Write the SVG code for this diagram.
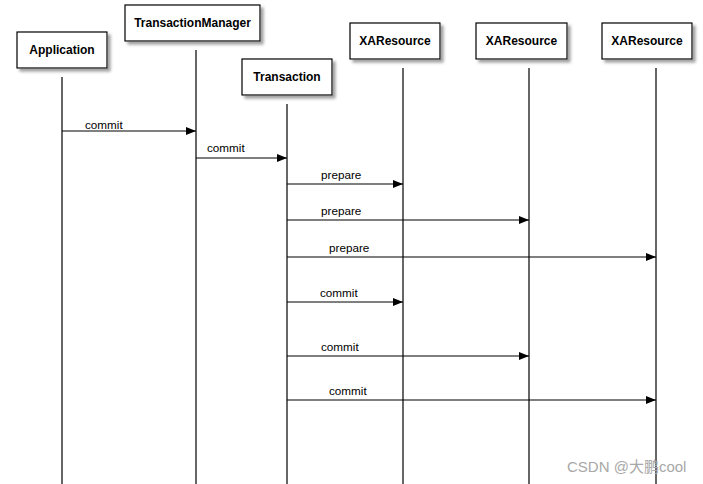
<svg xmlns="http://www.w3.org/2000/svg" width="703" height="484" viewBox="0 0 703 484">
<style>
.box{fill:#fff;stroke:#000;stroke-width:1.2;filter:url(#sh)}
.bt{font-family:"Liberation Sans",Arial,sans-serif;font-size:12px;font-weight:bold;text-anchor:middle;fill:#000}
.life{stroke:#000;stroke-width:1.2;fill:none}
.msg{stroke:#000;stroke-width:1.2;fill:none;marker-end:url(#ah)}
.lt{font-family:"Liberation Sans",Arial,sans-serif;font-size:11.7px;fill:#000}
.wm{font-family:"Liberation Sans","Noto Sans CJK SC",sans-serif;font-size:15px;fill:#a8a8a8}
</style>
<defs>
<filter id="sh" x="-20%" y="-30%" width="150%" height="170%">
<feDropShadow dx="3" dy="3" stdDeviation="1.5" flood-color="#888" flood-opacity="0.8"/>
</filter>
<marker id="ah" markerWidth="10" markerHeight="8" refX="10" refY="4" orient="auto" markerUnits="userSpaceOnUse">
<path d="M0,0 L10,4 L0,8 Z" fill="#000"/>
</marker>
</defs>
<rect width="703" height="484" fill="#fff"/>
<g id="node-application">
<rect class="box" x="17" y="32" width="90" height="36"/>
<text class="bt" x="62" y="54">Application</text>
<line class="life" x1="62" y1="77" x2="62" y2="484"/>
</g>
<g id="node-transactionmanager">
<rect class="box" x="125" y="5" width="135" height="36"/>
<text class="bt" x="192.5" y="27">TransactionManager</text>
<line class="life" x1="196" y1="50" x2="196" y2="484"/>
</g>
<g id="node-transaction">
<rect class="box" x="242" y="59" width="90" height="36"/>
<text class="bt" x="287" y="81">Transaction</text>
<line class="life" x1="287" y1="104" x2="287" y2="484"/>
</g>
<g id="node-xaresource1">
<rect class="box" x="350" y="23" width="90" height="36"/>
<text class="bt" x="395" y="45">XAResource</text>
<line class="life" x1="403" y1="68" x2="403" y2="484"/>
</g>
<g id="node-xaresource2">
<rect class="box" x="476" y="23" width="91" height="36"/>
<text class="bt" x="521.5" y="45">XAResource</text>
<line class="life" x1="529" y1="68" x2="529" y2="484"/>
</g>
<g id="node-xaresource3">
<rect class="box" x="602" y="23" width="90" height="36"/>
<text class="bt" x="647" y="45">XAResource</text>
<line class="life" x1="656" y1="68" x2="656" y2="484"/>
</g>
<g id="connectors">
<line class="msg" x1="62" y1="131" x2="196" y2="131"/>
<text class="lt" x="85" y="129">commit</text>
<line class="msg" x1="196" y1="158" x2="287" y2="158"/>
<text class="lt" x="207" y="152">commit</text>
<line class="msg" x1="287" y1="184" x2="403" y2="184"/>
<text class="lt" x="321" y="179">prepare</text>
<line class="msg" x1="287" y1="220" x2="529" y2="220"/>
<text class="lt" x="321" y="215">prepare</text>
<line class="msg" x1="287" y1="257" x2="656" y2="257"/>
<text class="lt" x="329" y="252">prepare</text>
<line class="msg" x1="287" y1="302" x2="403" y2="302"/>
<text class="lt" x="320" y="297">commit</text>
<line class="msg" x1="287" y1="356" x2="529" y2="356"/>
<text class="lt" x="321" y="351">commit</text>
<line class="msg" x1="287" y1="400" x2="656" y2="400"/>
<text class="lt" x="329" y="395">commit</text>
</g>
<text class="wm" x="567" y="472">CSDN @大鹏cool</text>
</svg>
